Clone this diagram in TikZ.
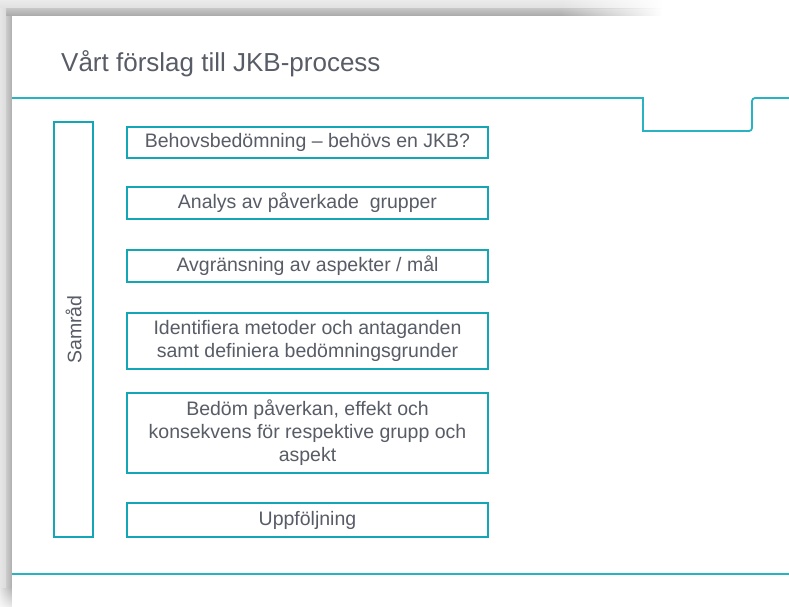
\documentclass[tikz,border=0pt]{standalone}
\usepackage{fontspec}
\setmainfont{Liberation Sans}
\usetikzlibrary{fadings}
\definecolor{slidetext}{RGB}{88,92,102}
\definecolor{teal}{RGB}{18,166,182}
\definecolor{tealline}{RGB}{40,178,194}
\tikzfading[name=fadetoright, left color=transparent!0, right color=transparent!100]
\tikzfading[name=fadetobottom, top color=transparent!0, bottom color=transparent!70]
\tikzset{
  stepbox/.style={draw=teal, line width=2pt, rectangle, inner sep=0pt,
    minimum width=361pt, text=slidetext, align=center,
    font=\fontsize{19.5}{23}\selectfont},
  sidebox/.style={draw=teal, line width=2pt, rectangle, inner sep=0pt,
    minimum width=39pt, minimum height=415pt},
  rule/.style={draw=tealline, line width=1.8pt},
}
\begin{document}
\begin{tikzpicture}[x=1pt, y=-1pt]
\useasboundingbox (0,0) rectangle (789,606);
\fill[white] (0,0) rectangle (789,606);

% drop shadow along the top and left edges of the slide
\shade[top color=black!8, bottom color=black!12] (0,0) rectangle (560,8);
\shade[top color=black!22, bottom color=black!34] (0,8) rectangle (560,16);
\shade[top color=black!8, bottom color=black!12, path fading=fadetoright] (560,0) rectangle (662,8);
\shade[top color=black!22, bottom color=black!34, path fading=fadetoright] (560,8) rectangle (662,16);
\shade[left color=black!10, right color=black!14] (0,8) rectangle (6,588);
\shade[left color=black!20, right color=black!32] (6,16) rectangle (12,588);
\shade[left color=black!10, right color=black!30, path fading=fadetobottom] (0,588) rectangle (12,606);
\fill[white] (12,16) rectangle (789,606);

% title
\node[anchor=base west, text=slidetext, inner sep=0pt,
      font=\fontsize{26}{30}\selectfont] (title) at (61,71) {Vårt förslag till JKB-process};

% header rule with tab, and footer rule
\coordinate (hl) at (12,98);
\coordinate (hr) at (789,98);
\coordinate (fl) at (12,574);
\coordinate (fr) at (789,574);
\draw[rule] (hl) -- (643,98) -- (643,131) [rounded corners=3pt] -- (752,131) -- (752,98) [sharp corners] -- (hr);
\draw[rule] (fl) -- (fr);

% consultation bar
\node[sidebox] (samrad) at (73.5,329.5) {};
\node[rotate=90, text=slidetext, font=\fontsize{19.5}{23}\selectfont] (samradtext) at (samrad.center) {Samråd};

% process steps
\node[stepbox, minimum height=31pt] (s1) at (307.5,142.5) {Behovsbedömning – behövs en JKB?};
\node[stepbox, minimum height=32pt] (s2) at (307.5,203) {Analys av påverkade~ grupper};
\node[stepbox, minimum height=32pt] (s3) at (307.5,266) {Avgränsning av aspekter / mål};
\node[stepbox, minimum height=56pt] (s4) at (307.5,341) {Identifiera metoder och antaganden\\samt definiera bedömningsgrunder};
\node[stepbox, minimum height=80pt] (s5) at (307.5,433) {Bedöm påverkan, effekt och\\konsekvens för respektive grupp och\\aspekt};
\node[stepbox, minimum height=34pt] (s6) at (307.5,520) {Uppföljning};
\end{tikzpicture}
\end{document}
